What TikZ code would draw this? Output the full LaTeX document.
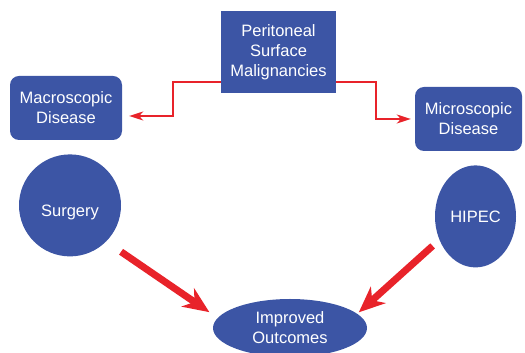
\documentclass[tikz,border=0pt]{standalone}
\usepackage{fontspec}
\setmainfont{Liberation Sans}
\usetikzlibrary{arrows.meta,positioning,shapes.geometric}
\definecolor{boxblue}{HTML}{3C55A5}
\definecolor{arrowred}{HTML}{E8232A}

\begin{document}
\begin{tikzpicture}[x=1pt, y=1pt,
  box/.style={fill=boxblue, text=white, align=center, inner sep=0pt,
              font=\fontsize{16.5}{20}\selectfont},
  roundbox/.style={box, rounded corners=9pt, minimum height=64pt},
  textdown/.style={execute at begin node={\rule{0pt}{#1}}},
  thinarrow/.style={draw=arrowred, line width=1.7pt,
                    -{Stealth[length=14pt, width=9pt, inset=4pt]}},
  fatarrow/.style={draw=arrowred, line width=7pt,
                   -{Stealth[length=26pt, width=22pt, inset=8pt]}},
]
  \useasboundingbox (0,0) rectangle (525,353);

  \node[box, textdown=18pt, minimum width=115pt, minimum height=82pt] (peritoneal) at (278.5,301) {Peritoneal\\Surface\\Malignancies};
  \node[roundbox, textdown=18pt, minimum width=112pt] (macro) at (66,245) {Macroscopic\\Disease};
  \node[roundbox, textdown=14pt, minimum width=107pt] (micro) at (468.5,234) {Microscopic\\Disease};
  \node[box, textdown=25pt, circle, minimum size=102pt, below=14pt of macro, xshift=4pt] (surgery) {Surgery};
  \node[box, ellipse, minimum width=81pt, minimum height=102pt, below=14pt of micro, xshift=7pt] (hipec) {HIPEC};
  \node[box, textdown=21pt, ellipse, minimum width=154pt, minimum height=58pt] (improved) at (290,25) {Improved\\Outcomes};

  % branch arrows from the top box
  \coordinate (macroend) at ([xshift=7pt, yshift=-8pt]macro.east);
  \coordinate (microend) at ([xshift=-4pt]micro.west);
  \draw[thinarrow] ([yshift=-30pt]peritoneal.west) -- ++(-48,0) |- (macroend);
  \draw[thinarrow] ([yshift=-30pt]peritoneal.east) -- ++(40,0) |- (microend);

  % treatment arrows
  \draw[fatarrow, shorten <=18pt, shorten >=10pt] (surgery.-45) -- (improved.172);
  \draw[fatarrow, shorten <=9pt, shorten >=2pt] (hipec.213) -- (improved.12);
\end{tikzpicture}
\end{document}
